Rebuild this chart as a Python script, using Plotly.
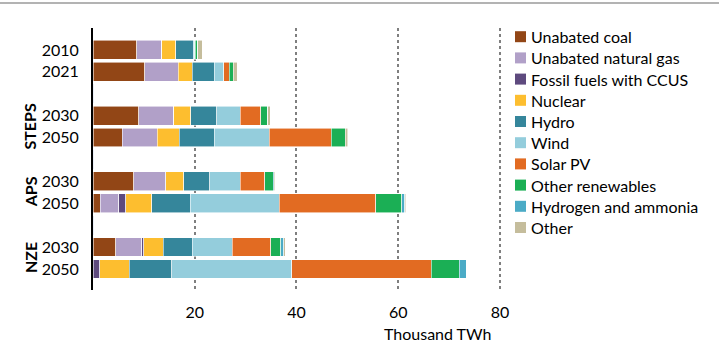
import plotly.graph_objects as go

# ---------------- data ----------------
rows = ["2010", "2021", "STEPS 2030", "STEPS 2050", "APS 2030", "APS 2050", "NZE 2030", "NZE 2050"]
year_labels = ["2010", "2021", "2030", "2050", "2030", "2050", "2030", "2050"]
scenarios = ["STEPS", "APS", "NZE"]
spacers = ["gap1", "gap2", "gap3"]

series_names = ["Unabated coal", "Unabated natural gas", "Fossil fuels with CCUS", "Nuclear",
                "Hydro", "Wind", "Solar PV", "Other renewables", "Hydrogen and ammonia", "Other"]
colors = ["#924616", "#B1A0C8", "#5E4A7E", "#FDBE2F", "#35869B", "#94CDDC",
          "#E26B22", "#1BAF55", "#4BABC6", "#C5BD9C"]

coal      = [8.6, 10.17, 9.0, 5.78, 8.0, 1.46, 4.52, 0.0]
gas       = [4.9, 6.55, 6.88, 6.81, 6.24, 3.65, 5.06, 0.05]
ccus      = [0.0, 0.0, 0.02, 0.05, 0.05, 1.32, 0.39, 1.3]
nuclear   = [2.75, 2.75, 3.34, 4.32, 3.55, 5.11, 3.8, 5.76]
hydro     = [3.45, 4.4, 5.11, 6.83, 5.11, 7.54, 5.7, 8.34]
wind      = [0.34, 1.83, 4.59, 10.81, 5.96, 17.5, 7.94, 23.6]
solar     = [0.04, 1.05, 4.07, 12.19, 4.86, 18.96, 7.54, 27.4]
other_ren = [0.49, 0.86, 1.32, 2.76, 1.71, 5.11, 1.96, 5.5]
hydrogen  = [0.0, 0.0, 0.0, 0.02, 0.19, 0.65, 0.59, 1.4]
other     = [0.95, 0.79, 0.51, 0.53, 0.2, 0.2, 0.26, 0.05]

series_values = [coal, gas, ccus, nuclear, hydro, wind, solar, other_ren, hydrogen, other]

x_ticks = [20, 40, 60, 80]
x_title = "Thousand TWh"

# ---------------- layout helpers ----------------
W, H = 719, 348
ML, MR, MT, MB = 93, 216, 28, 58
PW, PH = W - ML - MR, H - MT - MB

def px_x(p):
    return (p - ML) / PW

def px_y(p):
    return 1 - (p - MT) / PH

FONT = "Lato"

y_cats = ["2010", "2021", "gap1", "STEPS 2030", "STEPS 2050", "gap2",
          "APS 2030", "APS 2050", "gap3", "NZE 2030", "NZE 2050"]

fig = go.Figure()
for name, col, vals in zip(series_names, colors, series_values):
    fig.add_trace(go.Bar(
        x=vals, y=rows, orientation="h", name=name,
        marker=dict(color=col, line=dict(color="rgba(255,255,255,0.7)", width=0.8)),
        showlegend=False,
    ))
# invisible spacer rows
fig.add_trace(go.Bar(x=[0] * len(spacers), y=spacers, orientation="h",
                     marker=dict(color="rgba(0,0,0,0)"), showlegend=False, hoverinfo="skip"))

fig.update_layout(
    width=W, height=H,
    margin=dict(l=ML, r=MR, t=MT, b=MB),
    barmode="stack", bargap=0.14,
    paper_bgcolor="white", plot_bgcolor="white",
    font=dict(family=FONT, color="black", size=16),
    showlegend=False,
)
fig.update_xaxes(
    range=[0, 80.6], tickvals=x_ticks, ticktext=[str(v) for v in x_ticks],
    showgrid=True, gridcolor="#7f7f7f", gridwidth=2, griddash="dot",
    zeroline=False, showline=False, ticks="",
    tickfont=dict(size=16, family=FONT), ticklabelstandoff=11,
)
fig.update_yaxes(
    type="category", categoryorder="array", categoryarray=y_cats,
    range=[10.96, -1.0],
    tickvals=rows, ticktext=year_labels,
    showgrid=False, zeroline=False,
    showline=True, linecolor="black", linewidth=2, ticks="",
    tickfont=dict(size=16, family=FONT), ticklabelstandoff=9,
)

# scenario group labels
for sc in scenarios:
    idx = [y_cats.index(r) for r in rows if r.startswith(sc + " ")]
    fig.add_annotation(
        x=px_x(30), xref="paper", y=sum(idx) / len(idx), yref="y",
        text="<b>%s</b>" % sc, textangle=-90, showarrow=False,
        font=dict(size=16, family=FONT), xanchor="center", yanchor="middle",
    )

# axis title
fig.add_annotation(x=px_x(493), xref="paper", y=px_y(333), yref="paper",
                   text=x_title, showarrow=False, xanchor="right", yanchor="middle",
                   font=dict(size=16, family=FONT))

# top rule
fig.add_shape(type="line", xref="paper", yref="paper",
              x0=px_x(0), x1=px_x(W), y0=px_y(3), y1=px_y(3),
              line=dict(color="#9a9a9a", width=1.5))

# legend (built from the series lists)
for i, (name, col) in enumerate(zip(series_names, colors)):
    cy = 36.7 + i * 21.2
    fig.add_shape(type="rect", xref="paper", yref="paper",
                  x0=px_x(515), x1=px_x(526), y0=px_y(cy - 5.5), y1=px_y(cy + 5.5),
                  fillcolor=col, line=dict(width=0))
    fig.add_annotation(x=px_x(529), xref="paper", y=px_y(cy), yref="paper",
                       text=name, showarrow=False, xanchor="left", yanchor="middle",
                       font=dict(size=16, family=FONT))

fig.write_html("out.html")
